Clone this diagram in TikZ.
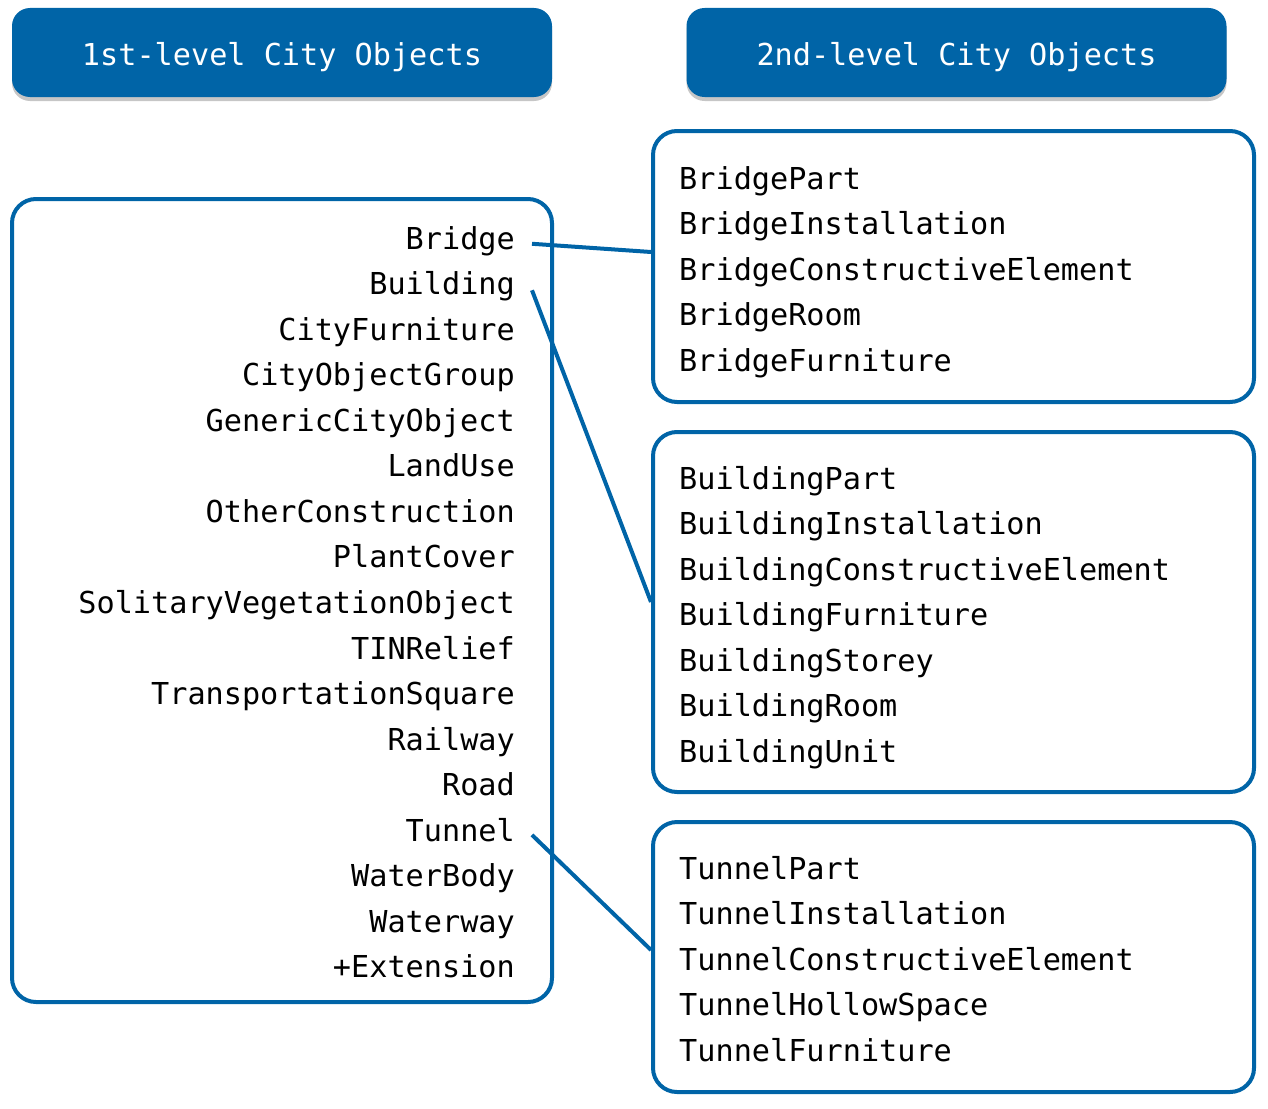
\documentclass[tikz,border=0pt]{standalone}
\usepackage{fontspec}
\setmonofont{DejaVu Sans Mono}
\usetikzlibrary{calc, shadows}
\definecolor{cgblue}{HTML}{0064A7}
\newcommand\cofont{\ttfamily\fontsize{30.2}{36}\selectfont}

\begin{document}
\begin{tikzpicture}
      [x=1pt,y=-1pt
      ,hdr/.style={rectangle,rounded corners=18,fill=cgblue,text=white,font=\cofont,text height=27pt,text depth=0pt,minimum width=540,minimum height=89,drop shadow={shadow xshift=0pt,shadow yshift=-4pt,opacity=.45}}
      ,box/.style={rectangle,draw=cgblue,line width=4,rounded corners=24}
      ,itm/.style={font=\cofont,inner sep=0}
      ,lin/.style={draw=cgblue,line width=4}]
        \useasboundingbox (0,0) rectangle (1268,1108);
        \node[hdr] (h1) at (282,52.5) {1st-level City Objects};
        \node[hdr] (h2) at (956.5,52.5) {2nd-level City Objects};
        \node[box,minimum width=540,minimum height=803] (lvl1) at (282,600.5) {};
        \node[box,minimum width=601,minimum height=271] (box1) at (953.5,266.5) {};
        \node[box,minimum width=601,minimum height=360] (box2) at (953.5,612) {};
        \node[box,minimum width=601,minimum height=270] (box3) at (953.5,957) {};
        \foreach \t [count=\i from 0] in {Bridge,Building,CityFurniture,CityObjectGroup,
            GenericCityObject,LandUse,OtherConstruction,PlantCover,SolitaryVegetationObject,
            TINRelief,TransportationSquare,Railway,Road,Tunnel,WaterBody,Waterway,+Extension}{
          \node[itm,anchor=base east] (l\i) at (515,249+\i*45.56) {\t};
        }
        \foreach \t [count=\i from 0] in {BridgePart,BridgeInstallation,
            BridgeConstructiveElement,BridgeRoom,BridgeFurniture}{
          \node[itm,anchor=base west] (r1\i) at (679,189+\i*45.5) {\t};
        }
        \foreach \t [count=\i from 0] in {BuildingPart,BuildingInstallation,
            BuildingConstructiveElement,BuildingFurniture,BuildingStorey,BuildingRoom,BuildingUnit}{
          \node[itm,anchor=base west] (r2\i) at (679,489+\i*45.5) {\t};
        }
        \foreach \t [count=\i from 0] in {TunnelPart,TunnelInstallation,
            TunnelConstructiveElement,TunnelHollowSpace,TunnelFurniture}{
          \node[itm,anchor=base west] (r3\i) at (679,879+\i*45.5) {\t};
        }
        \draw[lin] ([xshift=17pt,yshift=-3pt]l0.east) -- ([yshift=14.5pt]box1.west);
        \draw[lin] ([xshift=17pt,yshift=-4pt]l1.east) -- ([yshift=10pt]box2.west);
        \draw[lin] ([xshift=17pt,yshift=-5pt]l13.east) -- ([yshift=7pt]box3.west);
      \end{tikzpicture}
\end{document}
